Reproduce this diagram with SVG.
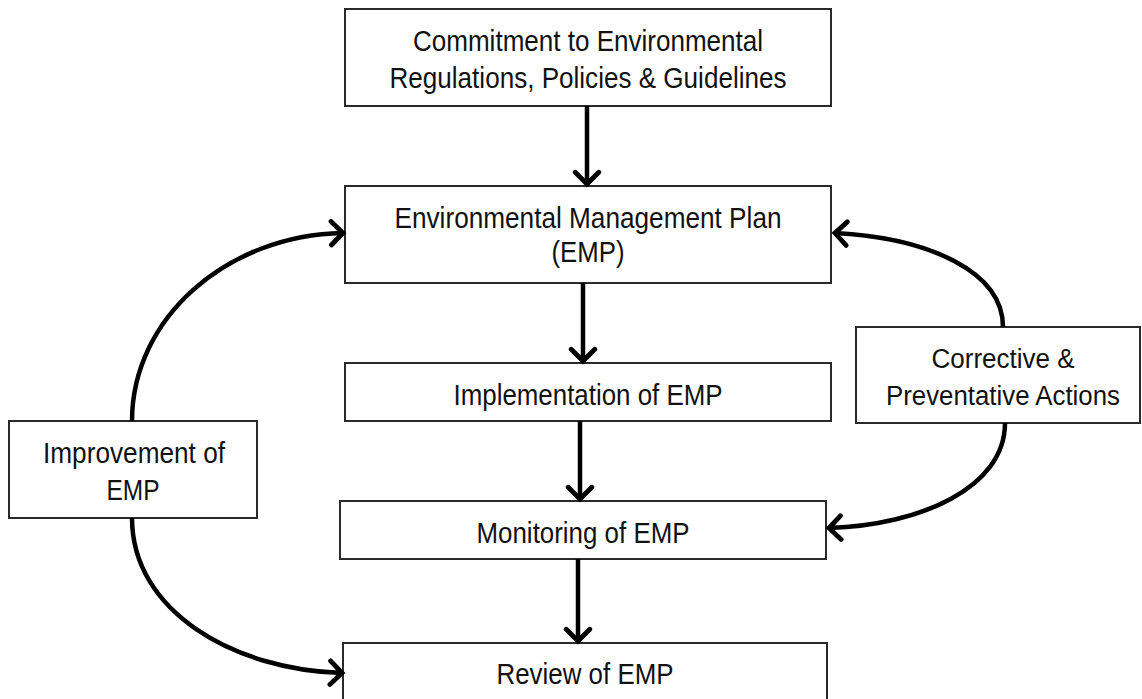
<svg xmlns="http://www.w3.org/2000/svg" width="1142" height="699" viewBox="0 0 1142 699">
<defs>
<style>
.box{fill:#fff;stroke:#2a2a2a;stroke-width:2}
.t{font-family:"Liberation Sans",Arial,sans-serif;font-size:29px;fill:#111;text-anchor:middle}
.s{font-size:27px}
.c{fill:none;stroke:#000;stroke-width:4.5}
</style>
<marker id="ah" markerUnits="userSpaceOnUse" markerWidth="30" markerHeight="30" viewBox="-14 -14 28 28" refX="0" refY="0" orient="auto">
<path d="M-11,-11 L0,0 L-11,11" fill="none" stroke="#000" stroke-width="4.5" stroke-linecap="round" stroke-linejoin="miter"/>
</marker>
</defs>
<rect width="1142" height="699" fill="#fff"/>
<g id="commitment">
<rect class="box" x="345" y="9" width="486" height="97"/>
<text class="t" x="588" y="51" textLength="350" lengthAdjust="spacingAndGlyphs">Commitment to Environmental</text>
<text class="t" x="588" y="88" textLength="397" lengthAdjust="spacingAndGlyphs">Regulations, Policies &amp; Guidelines</text>
</g>
<g id="emp">
<rect class="box" x="345" y="186" width="486" height="97"/>
<text class="t" x="588" y="228" textLength="387" lengthAdjust="spacingAndGlyphs">Environmental Management Plan</text>
<text class="t" x="588" y="262" textLength="73" lengthAdjust="spacingAndGlyphs">(EMP)</text>
</g>
<g id="implementation">
<rect class="box" x="345" y="363" width="486" height="58"/>
<text class="t" x="588" y="405" textLength="269" lengthAdjust="spacingAndGlyphs">Implementation of EMP</text>
</g>
<g id="monitoring">
<rect class="box" x="340" y="501" width="486" height="58"/>
<text class="t" x="583" y="543" textLength="213" lengthAdjust="spacingAndGlyphs">Monitoring of EMP</text>
</g>
<g id="review">
<rect class="box" x="343" y="643" width="484" height="70"/>
<text class="t" x="585" y="684" textLength="177" lengthAdjust="spacingAndGlyphs">Review of EMP</text>
</g>
<g id="improvement">
<rect class="box" x="9" y="421" width="248" height="97"/>
<text class="t" x="134" y="463" textLength="182" lengthAdjust="spacingAndGlyphs">Improvement of</text>
<text class="t" x="133" y="500" textLength="53" lengthAdjust="spacingAndGlyphs">EMP</text>
</g>
<g id="corrective">
<rect class="box" x="856" y="327" width="284" height="96"/>
<text class="t s" x="1003" y="368" textLength="143" lengthAdjust="spacingAndGlyphs">Corrective &amp;</text>
<text class="t s" x="1003" y="405" textLength="234" lengthAdjust="spacingAndGlyphs">Preventative Actions</text>
</g>
<g id="connectors">
<path class="c" d="M587,106 L587,184" marker-end="url(#ah)"/>
<path class="c" d="M583,283 L583,361" marker-end="url(#ah)"/>
<path class="c" d="M580,421 L580,499" marker-end="url(#ah)"/>
<path class="c" d="M578,559 L578,641" marker-end="url(#ah)"/>
<path class="c" d="M132,421 C132,318 227,235 343,233" marker-end="url(#ah)"/>
<path class="c" d="M132,518 C132,612 235,670 342,673" marker-end="url(#ah)"/>
<path class="c" d="M1003,327 C1003,272 930,238 835,233" marker-end="url(#ah)"/>
<path class="c" d="M1005,423 C1005,488 920,525 829,528" marker-end="url(#ah)"/>
</g>
</svg>
